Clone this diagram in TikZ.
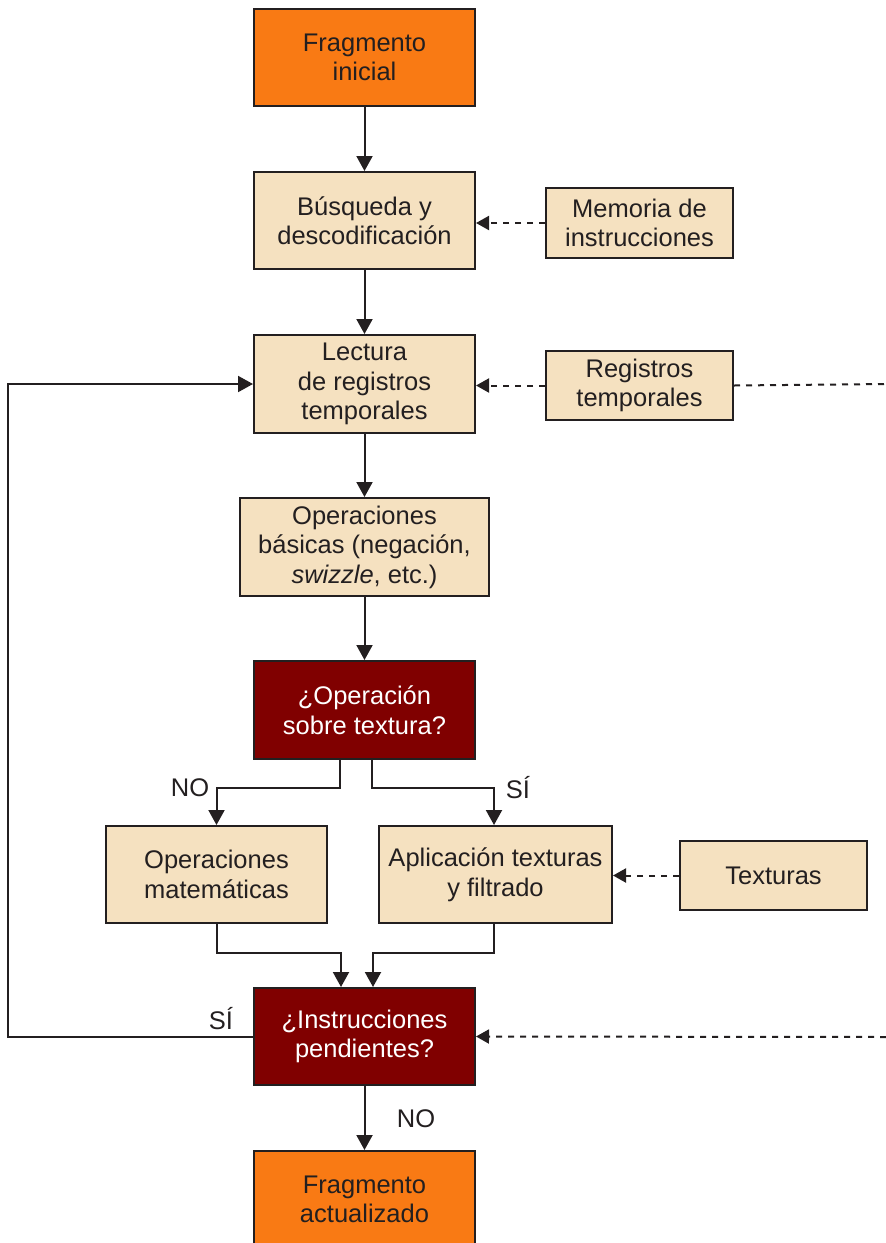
\documentclass[tikz,border=0pt]{standalone}
\usepackage{fontspec}
\setmainfont{Liberation Sans}
\usetikzlibrary{arrows.meta,calc}
\definecolor{orangebox}{RGB}{249,122,20}
\definecolor{beigebox}{RGB}{245,225,192}
\definecolor{redbox}{RGB}{128,0,0}
\definecolor{linecol}{RGB}{35,31,32}
\tikzset{
  base/.style={draw=linecol, line width=2pt, align=center, inner sep=2pt,
    font=\fontsize{25.5}{29.5}\selectfont, text=linecol},
  startbox/.style={base, fill=orangebox, minimum width=221pt, minimum height=97pt},
  procbox/.style={base, fill=beigebox, minimum width=221pt, minimum height=97pt},
  srcbox/.style={base, fill=beigebox, minimum width=187pt, minimum height=69pt},
  decbox/.style={base, fill=redbox, text=white, minimum width=221pt, minimum height=97pt},
  arr/.style={draw=linecol, line width=2pt, -{Triangle[length=15pt,width=16pt]}},
  dasharr/.style={draw=linecol, line width=2pt, dash pattern=on 6pt off 6pt, -{Triangle[length=13pt,width=14pt]}},
  dashline/.style={draw=linecol, line width=2pt, dash pattern=on 6pt off 6pt},
  lbl/.style={font=\fontsize{25.5}{29.5}\selectfont, text=linecol, inner sep=0pt}
}
\begin{document}
\begin{tikzpicture}[x=1pt,y=-1pt]
\useasboundingbox (0,0) rectangle (886,1243);
\node[startbox] (n1) at (364.5,57.5) {Fragmento\\inicial};
\node[procbox] (n2) at (364.5,220.5) {Búsqueda y\\descodificación};
\node[srcbox, minimum height=70pt] (n3) at (639.5,223) {Memoria de\\instrucciones};
\node[procbox, minimum height=98pt] (n4) at (364.5,384) {Lectura\\de registros\\temporales};
\node[srcbox] (n5) at (639.5,385.5) {Registros\\temporales};
\node[procbox, minimum width=249pt, minimum height=98pt] (n6) at (364.5,547) {Operaciones\\básicas (negación,\\\textit{swizzle}, etc.)};
\node[decbox, minimum height=98pt] (n7) at (364.5,710) {¿Operación\\sobre textura?};
\node[procbox] (n8) at (216.5,874.5) {Operaciones\\matemáticas};
\node[procbox, minimum width=233pt] (n9) at (495.5,874.5) {Aplicación texturas\\y filtrado};
\node[srcbox] (n10) at (773.5,875.5) {Texturas};
\node[decbox] (n11) at (364.5,1036.5) {¿Instrucciones\\pendientes?};
\node[startbox] (n12) at (364.5,1199.5) {Fragmento\\actualizado};

\coordinate (edgeA) at (886,384);
\coordinate (edgeB) at (886,1037);

\draw[arr] (n1) -- (n2);
\draw[arr] (n2) -- (n4);
\draw[arr] (n4) -- (n6);
\draw[arr] (n6) -- (n7);
\draw[arr] ([xshift=-24.5pt]n7.south) -- ++(0,28) -| (n8.north);
\draw[arr] ([xshift=7.5pt]n7.south) -- ++(0,28) -| ([xshift=-1.5pt]n9.north);
\draw[arr] (n8.south) -- ++(0,29) -| ([xshift=-23.5pt]n11.north);
\draw[arr] ([xshift=-1.5pt]n9.south) -- ++(0,29) -| ([xshift=8.5pt]n11.north);
\draw[arr] (n11.west) -- ++(-245,0) |- (n4.west);
\draw[arr] (n11) -- (n12);

\draw[dasharr] (n3.west) -- (n3.west -| n2.east);
\draw[dasharr] (n5.west) -- (n5.west -| n4.east);
\draw[dashline] (n5.east) -- (edgeA);
\draw[dasharr] (edgeB) -- (n11.east);
\draw[dasharr] (n10.west) -- (n10.west -| n9.east);

\node[lbl] (lno1) at (190,788) {NO};
\node[lbl] (lsi1) at (518,788) {SÍ};
\node[lbl] (lsi2) at (221,1019) {SÍ};
\node[lbl] (lno2) at (416,1119) {NO};
\end{tikzpicture}
\end{document}
